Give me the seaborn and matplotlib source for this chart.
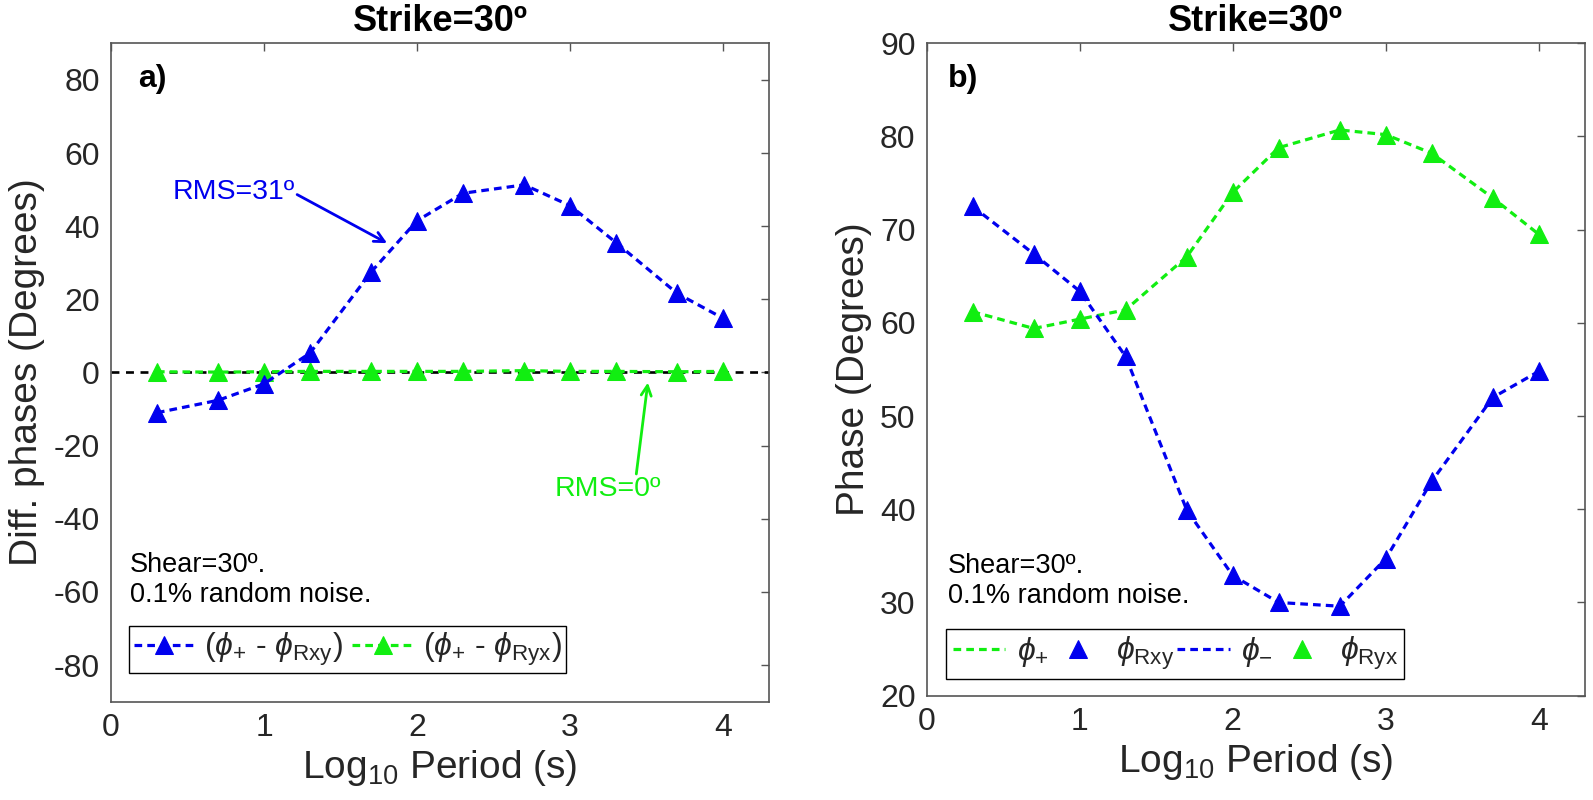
import matplotlib
matplotlib.use("Agg")
import matplotlib.pyplot as plt
import seaborn as sns
import pandas as pd
from matplotlib import font_manager

# ---------------- data ----------------
log_period = [0.3, 0.7, 1.0, 1.3, 1.7, 2.0, 2.3, 2.7, 3.0, 3.3, 3.7, 4.0]
# panel a
diff_plus_rxy = [-11.0, -7.6, -3.1, 5.3, 27.5, 41.5, 49.0, 51.3, 45.6, 35.5, 21.6, 14.8]
diff_plus_ryx = [0.2, 0.1, 0.2, 0.3, 0.3, 0.3, 0.3, 0.5, 0.3, 0.3, 0.2, 0.3]
# panel b
phi_plus = [61.2, 59.4, 60.4, 61.4, 67.1, 74.0, 78.8, 80.7, 80.2, 78.2, 73.4, 69.5]
phi_Ryx = [61.2, 59.4, 60.4, 61.4, 67.1, 74.0, 78.8, 80.7, 80.2, 78.2, 73.4, 69.5]
phi_minus = [72.5, 67.4, 63.4, 56.4, 39.9, 32.9, 30.0, 29.6, 34.7, 43.0, 52.0, 54.8]
phi_Rxy = [72.5, 67.4, 63.4, 56.4, 39.9, 32.9, 30.0, 29.6, 34.7, 43.0, 52.0, 54.8]

x_ticks = [0, 1, 2, 3, 4]
y_ticks_a = [-80, -60, -40, -20, 0, 20, 40, 60, 80]
y_ticks_b = [20, 30, 40, 50, 60, 70, 80, 90]

title_text = "Strike=30º"
note_text = "Shear=30º.\n0.1% random noise."

df_a = pd.DataFrame({"x": log_period, "rxy": diff_plus_rxy, "ryx": diff_plus_ryx})
df_b = pd.DataFrame({"x": log_period, "pp": phi_plus, "pm": phi_minus,
                     "rxy": phi_Rxy, "ryx": phi_Ryx})

# ---------------- style ----------------
sns.set_theme(style="white")
avail = {f.name for f in font_manager.fontManager.ttflist}
base_font = "Liberation Sans" if "Liberation Sans" in avail else "DejaVu Sans"
title_font = "Liberation Sans Narrow" if "Liberation Sans Narrow" in avail else base_font
plt.rcParams["font.family"] = [base_font, "DejaVu Sans"]
plt.rcParams["axes.unicode_minus"] = False
plt.rcParams["mathtext.fontset"] = "custom"
plt.rcParams["mathtext.rm"] = base_font
plt.rcParams["mathtext.it"] = base_font + ":italic"
plt.rcParams["mathtext.bf"] = base_font + ":bold"

BLUE = "#0000ee"
GREEN = "#11ee11"
AX_COL = "#555555"
TXT_COL = "#262626"
DASH = (0, (2.4, 1.6))
LW = 2.3
MS = 13

fig = plt.figure(figsize=(15.93, 8.0), dpi=100)
ax1 = fig.add_axes([0.0697, 0.1229, 0.4131, 0.8230])
ax2 = fig.add_axes([0.5817, 0.1304, 0.4131, 0.8155])

# ---------------- panel a ----------------
ax1.axhline(0, color="black", lw=1.9, ls=(0, (3, 2.5)), zorder=1)
sns.lineplot(data=df_a, x="x", y="rxy", ax=ax1, color=BLUE, lw=LW, linestyle=DASH,
             marker="^", markersize=MS, markeredgecolor=BLUE, markerfacecolor=BLUE,
             label=r"$(\phi_{+}$ - $\phi_{\mathrm{Rxy}})$", zorder=3)
sns.lineplot(data=df_a, x="x", y="ryx", ax=ax1, color=GREEN, lw=LW, linestyle=DASH,
             marker="^", markersize=MS, markeredgecolor=GREEN, markerfacecolor=GREEN,
             label=r"$(\phi_{+}$ - $\phi_{\mathrm{Ryx}})$", zorder=2)
ax1.set_xlim(0, 4.3)
ax1.set_ylim(-90, 90)
ax1.set_yticks(y_ticks_a)
ax1.set_ylabel("Diff. phases (Degrees)", fontsize=28, color=TXT_COL, labelpad=6)

ax1.text(0.40, 49.3, "RMS=31º", color=BLUE, fontsize=20.5, ha="left", va="center")
ax1.annotate("", xy=(1.82, 35), xytext=(1.20, 49),
             arrowprops=dict(arrowstyle="->,head_length=0.6,head_width=0.3",
                             color=BLUE, lw=2))
ax1.text(2.90, -31.8, "RMS=0º", color=GREEN, fontsize=20.5, ha="left", va="center")
ax1.annotate("", xy=(3.51, -2), xytext=(3.43, -28.5),
             arrowprops=dict(arrowstyle="->,head_length=0.6,head_width=0.3",
                             color=GREEN, lw=2))
ax1.text(0.18, 80.3, "a)", fontsize=23, fontweight="bold", ha="left", va="center",
         color="black", family=title_font)
ax1.text(0.125, -49, note_text, fontsize=19.5, ha="left", va="top", color="black",
         linespacing=1.2)
ax1.legend(loc="lower left", bbox_to_anchor=(0.027, 0.044), borderaxespad=0,
           ncol=2, fontsize=23, frameon=True, fancybox=False, framealpha=1,
           edgecolor="black", handlelength=1.9, handletextpad=0.3,
           columnspacing=0.3, borderpad=0.15)

# ---------------- panel b ----------------
sns.lineplot(data=df_b, x="x", y="pp", ax=ax2, color=GREEN, lw=LW, linestyle=DASH,
             label=r"$\phi_{+}$", zorder=2)
sns.lineplot(data=df_b, x="x", y="rxy", ax=ax2, color=BLUE, linestyle="none",
             marker="^", markersize=MS, markeredgecolor=BLUE, markerfacecolor=BLUE,
             label=r"$\phi_{\mathrm{Rxy}}$", zorder=4)
sns.lineplot(data=df_b, x="x", y="pm", ax=ax2, color=BLUE, lw=LW, linestyle=DASH,
             label=r"$\phi_{-}$", zorder=3)
sns.lineplot(data=df_b, x="x", y="ryx", ax=ax2, color=GREEN, linestyle="none",
             marker="^", markersize=MS, markeredgecolor=GREEN, markerfacecolor=GREEN,
             label=r"$\phi_{\mathrm{Ryx}}$", zorder=3)
ax2.set_xlim(0, 4.3)
ax2.set_ylim(20, 90)
ax2.set_yticks(y_ticks_b)
ax2.set_ylabel("Phase (Degrees)", fontsize=28, color=TXT_COL, labelpad=6)
ax2.text(0.137, 86.2, "b)", fontsize=23, fontweight="bold", ha="left", va="center",
         color="black", family=title_font)
ax2.text(0.137, 35.3, note_text, fontsize=19.5, ha="left", va="top", color="black",
         linespacing=1.2)
ax2.legend(loc="lower left", bbox_to_anchor=(0.030, 0.026), borderaxespad=0,
           ncol=4, fontsize=23, frameon=True, fancybox=False, framealpha=1,
           edgecolor="black", handlelength=1.65, handletextpad=0.35,
           columnspacing=0.1, borderpad=0.2)

# ---------------- common axes styling ----------------
for ax in (ax1, ax2):
    ax.set_xticks(x_ticks)
    ax.set_xlabel(r"Log$_{10}$ Period (s)", fontsize=28, color=TXT_COL, labelpad=4)
    ax.set_title(title_text, fontsize=26, fontweight="bold", family=title_font,
                 pad=9, color="black")
    ax.tick_params(axis="both", which="both", direction="in", top=True, right=True,
                   length=6, width=1, color=AX_COL, labelsize=23, labelcolor=TXT_COL,
                   pad=8)
    for sp in ax.spines.values():
        sp.set_visible(True)
        sp.set_color(AX_COL)
        sp.set_linewidth(1.2)
    ax.set_facecolor("white")

fig.savefig("out.png", dpi=100, facecolor="white")
